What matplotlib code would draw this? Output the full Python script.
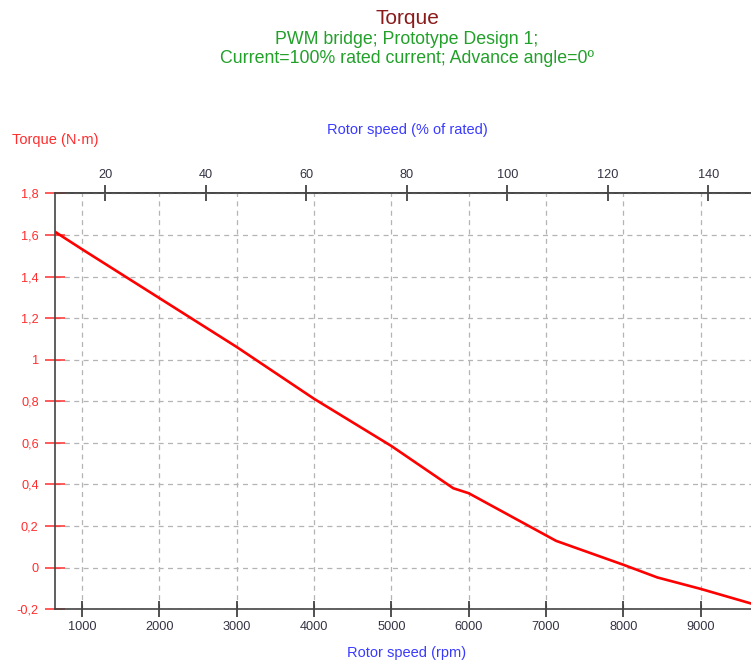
import matplotlib
matplotlib.use("Agg")
import matplotlib.pyplot as plt
from matplotlib.ticker import FuncFormatter, MultipleLocator

plt.rcParams['font.family'] = ['Liberation Sans', 'DejaVu Sans']

# Torque vs. rotor speed
speed_rpm = [650, 1000, 2000, 3000, 4000, 5000, 5800, 6000, 7130, 8000, 8440, 9000, 9650]
torque_nm = [1.615, 1.531, 1.296, 1.061, 0.812, 0.585, 0.382, 0.358, 0.129, 0.014, -0.047, -0.102, -0.172]

rated_speed_rpm = 6500
rpm_ticks = [1000, 2000, 3000, 4000, 5000, 6000, 7000, 8000, 9000]
pct_ticks = [20, 40, 60, 80, 100, 120, 140]

title = "Torque"
subtitle = "PWM bridge; Prototype Design 1;\nCurrent=100% rated current; Advance angle=0º"

RED = "#ff2d2d"
BLUE = "#3a3aff"
GREEN = "#22a02a"
DARKRED = "#8b1a1a"
SPINE = "#444444"

W, H = 751, 664
fig = plt.figure(figsize=(W / 100, H / 100), dpi=100)
ax = fig.add_axes([55 / W, 1 - 609.3 / H, (W - 55) / W, (609.3 - 193.3) / H])

ax.plot(speed_rpm, torque_nm, color="#ff0000", lw=1.9, solid_joinstyle="round", zorder=3)

ax.set_xlim(650, 9650)
ax.set_ylim(-0.2, 1.8)
ax.set_xticks(rpm_ticks)
ax.yaxis.set_major_locator(MultipleLocator(0.2))
ax.yaxis.set_major_formatter(FuncFormatter(
    lambda v, p: ("%g" % round(v, 1)).replace(".", ",")))

ax.grid(True, color="#b4b4b4", linestyle=(0, (4, 3.5)), linewidth=0.9)

ax.spines["right"].set_visible(False)
for s in ("left", "top", "bottom"):
    ax.spines[s].set_color(SPINE)
    ax.spines[s].set_linewidth(1.2)

ax.tick_params(axis="x", direction="inout", length=11, width=1.1, color="#222222",
               labelsize=9.2, labelcolor="#333344", pad=3)
ax.tick_params(axis="y", direction="inout", length=14.5, width=1.1, color=RED,
               labelsize=9.2, labelcolor=RED, pad=4.5)

sec = ax.secondary_xaxis(
    "top",
    functions=(lambda r: r / rated_speed_rpm * 100, lambda p: p * rated_speed_rpm / 100))
sec.set_xticks(pct_ticks)
sec.spines["top"].set_color(SPINE)
sec.spines["top"].set_linewidth(1.2)
sec.tick_params(axis="x", direction="inout", length=11, width=1.1, color="#222222",
                labelsize=9.2, labelcolor="#333344", pad=3)

fig.text(407 / W, 1 - 18 / H, title, color=DARKRED, fontsize=15, ha="center", va="center")
fig.text(407 / W, 1 - 49 / H, subtitle, color=GREEN, fontsize=12.8, ha="center", va="center",
         linespacing=1.17)
fig.text(12 / W, 1 - 140 / H, "Torque (N·m)", color=RED, fontsize=10.5, ha="left", va="center")
fig.text(407 / W, 1 - 130 / H, "Rotor speed (% of rated)", color=BLUE, fontsize=10.5,
         ha="center", va="center")
fig.text(407 / W, 1 - 653 / H, "Rotor speed (rpm)", color=BLUE, fontsize=10.5,
         ha="center", va="center")

fig.savefig("out.png", dpi=100, facecolor="white")
